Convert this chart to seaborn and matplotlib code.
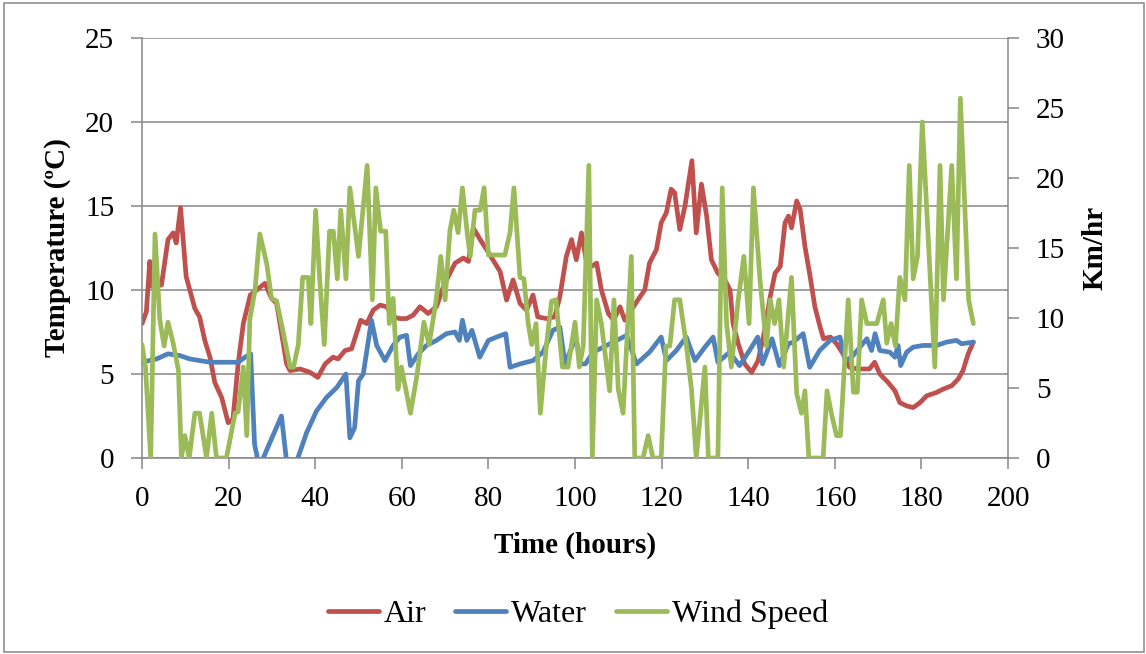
import numpy as np
import pandas as pd
import matplotlib
matplotlib.use("Agg")
import matplotlib.pyplot as plt
from matplotlib.patches import Rectangle
from matplotlib.lines import Line2D
import seaborn as sns

# ---------------- data ----------------
air_t = [0, 1, 1.8, 2.4, 4.5, 6, 7.2, 7.9, 8.9, 10.2, 12.2, 13.3, 14.5, 15.7, 16.8, 18.4,
         19.9, 21, 22.2, 23.4, 25, 26.5, 28.4, 29.9, 31.1, 33.4, 34.2, 36.5, 38.8, 40.6,
         42.3, 44.1, 45.3, 46.9, 48.4, 50.5, 51.9, 53.4, 55, 56.5, 58, 59.5, 61.1, 62.6,
         64.2, 66.1, 68, 69.6, 71.1, 72.3, 74.2, 75.4, 76.5, 78.1, 79.6, 81.5, 82.7, 84.2,
         85.7, 87.3, 88.8, 90.3, 91.4, 93.4, 95.3, 96.5, 98, 99.2, 100.3, 101.5, 102.7,
         103.8, 105, 106.1, 107.7, 108.9, 110.4, 111.5, 113, 114.5, 116.1, 117.2, 118.8,
         119.9, 121.1, 122.2, 123, 124.2, 125.4, 126.1, 127, 128, 129.2, 130.4, 131.5, 133,
         134.6, 135.8, 136.5, 137.7, 139.2, 140.8, 142.3, 143.8, 145, 146.2, 147.4, 148.5,
         149.3, 150, 151.2, 152, 153.1, 154.3, 155.4, 156.6, 157.4, 159, 160.4, 161.9,
         163.4, 165.3, 168, 169.2, 170.4, 172.3, 173.9, 175, 176.6, 178.1, 179.7, 181.2,
         183.5, 185, 187, 188.5, 189.6, 190.8, 192]
air_v = [8.0, 8.7, 11.7, 10.2, 10.3, 13.0, 13.4, 12.8, 14.9, 10.8, 8.9, 8.4, 7.0, 6.0, 4.5, 3.6,
         2.1, 2.3, 5.6, 8.0, 9.7, 10.0, 10.4, 9.5, 9.2, 5.6, 5.2, 5.3, 5.1, 4.8,
         5.6, 6.0, 5.9, 6.4, 6.5, 8.2, 8.0, 8.8, 9.1, 9.0, 8.4, 8.3, 8.3, 8.5,
         9.0, 8.6, 9.0, 10.2, 11.0, 11.6, 11.9, 11.7, 13.7, 13.0, 12.4, 11.6, 11.1, 9.4,
         10.6, 9.2, 8.8, 9.7, 8.4, 8.3, 8.4, 9.6, 12.0, 13.0, 11.8, 13.4, 11.6,
         11.4, 11.6, 10.0, 8.6, 8.2, 9.0, 8.2, 8.8, 9.4, 10.0, 11.6, 12.4,
         14.0, 14.6, 16.0, 15.8, 13.6, 15.0, 16.2, 17.7, 13.4, 16.3, 14.4, 11.8, 11.0,
         10.6, 10.0, 8.0, 6.8, 5.6, 5.1, 5.8, 7.6, 9.5, 11.0, 11.4, 14.0,
         14.4, 13.7, 15.3, 14.8, 12.6, 10.8, 9.0, 7.8, 7.1, 7.2, 6.8, 6.2,
         5.4, 5.3, 5.3, 5.7, 5.0, 4.5, 4.0, 3.3, 3.1, 3.0, 3.3, 3.7,
         3.9, 4.1, 4.3, 4.7, 5.2, 6.2, 6.9]

water_t = [0, 3.4, 6, 8.7, 11, 13.3, 15.7, 20.3, 22.2, 23.8, 25.1, 26, 27, 28, 32.2, 33.3,
           34.5, 36, 38, 40.3, 42.6, 45, 47.1, 48, 49.1, 50, 51.1, 53, 54.2, 56.1, 58,
           59.6, 61.1, 62, 63.8, 65.7, 68, 70.3, 72.3, 73.3, 74, 75, 76.2, 78, 80, 81.9,
           84, 85, 87.3, 90.3, 92.6, 94.9, 96.5, 97.7, 99.6, 100.5, 101.2, 102.4, 104.2,
           107.3, 110.4, 111.9, 114.2, 117.2, 119.9, 121.1, 123.4, 125.7, 127.7, 130,
           131.9, 133, 135.7, 138, 140.3, 142.2, 143.3, 145.5, 147.2, 149.3, 150.4, 152.7,
           154.2, 156.5, 158.9, 161.2, 162.4, 163.9, 165.8, 167.4, 168.5, 169.3, 170.4,
           172.7, 173.9, 174.6, 175.2, 176.6, 178.1, 180.4, 183.5, 185.8, 188.1, 189.3, 192]
water_v = [5.7, 5.9, 6.2, 6.1, 5.9, 5.8, 5.7, 5.7, 5.7, 6.0, 6.2, 0.8, -0.4, 0.0, 2.5, 0.0,
           -1.0, 0.0, 1.5, 2.8, 3.6, 4.2, 5.0, 1.2, 1.8, 4.6, 5.0, 8.2, 6.7, 5.8, 6.7,
           7.2, 7.3, 5.5, 6.2, 6.7, 7.0, 7.4, 7.5, 7.0, 8.2, 7.0, 7.6, 6.0, 7.0, 7.2,
           7.4, 5.4, 5.6, 5.8, 6.3, 7.6, 7.8, 5.6, 6.8, 6.8, 5.6, 5.6, 6.3,
           6.7, 7.1, 7.3, 5.6, 6.3, 7.2, 5.8, 6.4, 7.2, 5.8, 6.6,
           7.2, 5.7, 6.3, 5.5, 6.4, 7.2, 5.6, 7.1, 5.5, 6.8, 6.9, 7.4,
           5.4, 6.4, 7.0, 7.2, 5.8, 6.0, 6.6, 7.1, 6.4, 7.4, 6.4,
           6.3, 6.0, 6.7, 5.5, 6.3, 6.6, 6.7, 6.7, 6.9, 7.0, 6.8, 6.9]

wind_t = [0, 0.8, 2, 3, 4.1, 5.1, 6, 7.2, 8.4, 9.1, 9.9, 10.9, 12.2, 13.3, 14.9, 16.1, 17.2,
          19.5, 21.5, 22.2, 23.4, 24.2, 24.9, 26.1, 27.2, 28.8, 29.9, 31.1, 32.6, 34.2, 35,
          36.1, 37.1, 38.4, 39, 40.1, 41.1, 42.1, 43.3, 44.2, 45.1, 45.9, 47.1, 48, 50, 52,
          53.2, 54, 55.1, 56.3, 57.1, 58, 59.1, 59.9, 62, 63.5, 65.1, 66.3, 67.9, 69, 70,
          71.1, 72, 73, 74, 75.1, 75.8, 76.9, 78.1, 79, 80, 83.8, 85, 85.9, 87.3, 88.2,
          89.2, 90, 91, 92, 93.4, 94.6, 95.6, 97.1, 98.4, 100, 101, 101.9, 103.2, 104, 105,
          106.1, 108, 109, 110, 111.1, 113, 113.8, 115.7, 116.9, 118, 119.9, 121, 121.9,
          123, 124.2, 125.7, 126.9, 128, 130, 130.8, 133, 134, 135, 136.1, 137.7, 139,
          140.2, 141.2, 142.7, 144.2, 145.1, 146.1, 147.1, 148.2, 150, 151.2, 152.3, 153.1,
          154, 157.3, 158.2, 159.2, 160.4, 161.3, 163.1, 164.3, 165.2, 166.2, 167.4, 169.7,
          171.2, 172, 173, 174, 175, 176.2, 177.2, 178.1, 179.1, 180.2, 183.1, 184.3, 185.1,
          187, 188.1, 189, 190.9, 192]
wind_v = [8.1, 6.5, 0, 16.0, 9.9, 8.0, 9.7, 8.2, 6.3, 0, 1.6, 0, 3.2, 3.2, 0, 3.2, 0,
          0, 3.2, 3.3, 6.5, 1.6, 9.9, 12.0, 16.0, 13.9, 11.4, 11.2, 9.0, 6.5, 6.5,
          8.1, 12.9, 12.9, 9.6, 17.7, 12.5, 8.1, 16.2, 16.2, 12.8, 17.7, 12.8, 19.3, 14.4, 20.9,
          11.3, 19.3, 16.2, 16.2, 9.6, 11.4, 4.9, 6.5, 3.2, 5.9, 9.7, 8.1, 11.2, 14.4, 11.3,
          16.2, 17.7, 16.1, 19.3, 16.1, 14.4, 17.7, 17.7, 19.3, 14.5, 14.5, 16.1, 19.3, 12.9, 12.8,
          9.6, 8.1, 9.6, 3.2, 8.1, 11.2, 11.3, 6.5, 6.5, 9.7, 6.5, 8.0, 20.9, 0, 11.3,
          9.6, 4.8, 11.3, 4.9, 3.2, 14.4, 0, 0, 1.6, 0, 0, 8.0, 8.0,
          11.3, 11.3, 8.1, 4.9, 0, 6.5, 0, 0, 19.3, 9.6, 6.5, 11.3, 14.4,
          9.6, 19.3, 12.8, 8.0, 11.3, 9.6, 11.3, 6.5, 12.9, 4.6, 3.2, 4.8,
          0, 0, 4.8, 3.2, 1.6, 1.6, 11.3, 4.7, 4.7, 11.3, 9.6, 9.6,
          11.3, 8.2, 9.6, 8.0, 12.9, 11.3, 20.9, 12.8, 14.4, 24.0, 6.5, 20.9, 11.3,
          20.9, 12.8, 25.7, 11.3, 9.6]

series_names = ["Air", "Water", "Wind Speed"]
series_colors = ["#C0504D", "#4F81BD", "#9BBB59"]
x_ticks = list(range(0, 201, 20))
left_ticks = list(range(0, 26, 5))
right_ticks = list(range(0, 31, 5))

# ---------------- styling ----------------
sns.set_style("white")
plt.rcParams["font.family"] = ["Liberation Serif", "DejaVu Serif"]
plt.rcParams["text.color"] = "black"
plt.rcParams["axes.labelcolor"] = "black"
plt.rcParams["xtick.color"] = "black"
plt.rcParams["ytick.color"] = "black"

GRAY = "#868686"
FS = 21

fig = plt.figure(figsize=(11.46, 6.54), dpi=100)
W, H = 1146, 654
ax = fig.add_axes([142 / W, 1 - 458 / H, 866 / W, 420 / H])

lw = 3.4
air_df = pd.DataFrame({"t": air_t, "v": air_v})
water_df = pd.DataFrame({"t": water_t, "v": water_v})
wind_df = pd.DataFrame({"t": wind_t, "v": wind_v})

sns.lineplot(data=air_df, x="t", y="v", ax=ax, color=series_colors[0], linewidth=lw,
             estimator=None, legend=False, solid_joinstyle="round", solid_capstyle="round")
sns.lineplot(data=water_df, x="t", y="v", ax=ax, color=series_colors[1], linewidth=lw,
             estimator=None, legend=False, solid_joinstyle="round", solid_capstyle="round")

ax2 = ax.twinx()
sns.lineplot(data=wind_df, x="t", y="v", ax=ax2, color=series_colors[2], linewidth=lw,
             estimator=None, legend=False, solid_joinstyle="round", solid_capstyle="round")

ax.set_xlim(0, 200)
ax.set_ylim(0, 25)
ax2.set_ylim(0, 30)
ax.set_xticks(x_ticks)
ax.set_yticks(left_ticks)
ax2.set_yticks(right_ticks)

ax.yaxis.grid(True, color=GRAY, linewidth=1.1)
ax.xaxis.grid(False)
ax2.grid(False)
ax.set_axisbelow(True)

for a in (ax, ax2):
    for s in a.spines.values():
        s.set_color(GRAY)
        s.set_linewidth(1.1)
    a.spines["top"].set_visible(False)
ax.spines["right"].set_visible(False)
ax2.spines["left"].set_visible(False)
ax2.spines["bottom"].set_visible(False)

ax.tick_params(axis="both", direction="out", length=8, width=1.1, color=GRAY,
               labelcolor="black", labelsize=FS, pad=12, left=True, bottom=True)
ax2.tick_params(axis="y", direction="out", length=8, width=1.1, color=GRAY,
                labelcolor="black", labelsize=FS, pad=12, right=True)

ax.set_xlabel("Time (hours)", fontsize=FS, fontweight="bold", labelpad=14, color="black")
ax.set_ylabel("Temperature (ºC)", fontsize=FS, fontweight="bold", labelpad=10, color="black")
ax2.set_ylabel("Km/hr", fontsize=FS, fontweight="bold", labelpad=12, color="black")

handles = [Line2D([0], [0], color=c, linewidth=lw, solid_capstyle="round") for c in series_colors]
leg = fig.legend(handles, series_names, loc="center", bbox_to_anchor=(578 / W, 1 - 614 / H),
                 ncol=3, frameon=False, fontsize=23, handlelength=1.6, handletextpad=0.15,
                 columnspacing=0.9)
for t in leg.get_texts():
    t.set_color("black")

# figure border
fig.patches.append(Rectangle((4 / W, 2 / H), 1140 / W, 649 / H, transform=fig.transFigure,
                             fill=False, edgecolor=GRAY, linewidth=1.1))

fig.savefig("out.png", dpi=100)
